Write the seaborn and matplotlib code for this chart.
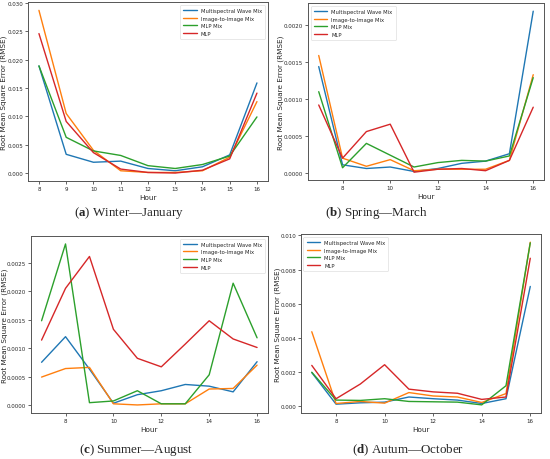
import matplotlib
matplotlib.use("Agg")
import matplotlib.pyplot as plt
import pandas as pd
import seaborn as sns

# model names, in legend order
models = ["Multispectral Wave Mix", "Image-to-Image Mix", "MLP Mix", "MLP"]

# (a) Winter - January
hours_jan = [8, 9, 10, 11, 12, 13, 14, 15, 16]
jan_wave = [0.0189, 0.0033, 0.0019, 0.0021, 0.0008, 0.0004, 0.0011, 0.0032, 0.0159]
jan_i2i = [0.0287, 0.0105, 0.0040, 0.0004, 0.0001, 0.0001, 0.0004, 0.0028, 0.0126]
jan_mlpmix = [0.0189, 0.0063, 0.0039, 0.0031, 0.0013, 0.0008, 0.0015, 0.0030, 0.0099]
jan_mlp = [0.0246, 0.0091, 0.0036, 0.0007, 0.0001, 0.0000, 0.0005, 0.0025, 0.0141]

# (b) Spring - March
hours_mar = [7, 8, 9, 10, 11, 12, 13, 14, 15, 16]
mar_wave = [0.00144, 0.00011, 0.00006, 0.00008, 0.00002, 0.00006, 0.00013, 0.00016, 0.00026, 0.00219]
mar_i2i = [0.00159, 0.00020, 0.00009, 0.00018, 0.00003, 0.00005, 0.00005, 0.00005, 0.00017, 0.00133]
mar_mlpmix = [0.00110, 0.00007, 0.00040, 0.00024, 0.00008, 0.00014, 0.00017, 0.00016, 0.00023, 0.00129]
mar_mlp = [0.00092, 0.00020, 0.00056, 0.00066, 0.00001, 0.00005, 0.00006, 0.00003, 0.00017, 0.00089]

# (c) Summer - August
hours_aug = [7, 8, 9, 10, 11, 12, 13, 14, 15, 16]
aug_wave = [0.00075, 0.00120, 0.00063, 0.00003, 0.00018, 0.00025, 0.00036, 0.00033, 0.00023, 0.00076]
aug_i2i = [0.00049, 0.00064, 0.00066, 0.00002, 0.00000, 0.00002, 0.00002, 0.00028, 0.00029, 0.00070]
aug_mlpmix = [0.00148, 0.00283, 0.00004, 0.00007, 0.00025, 0.00002, 0.00002, 0.00053, 0.00214, 0.00118]
aug_mlp = [0.00114, 0.00205, 0.00261, 0.00133, 0.00082, 0.00067, 0.00107, 0.00148, 0.00116, 0.00101]

# (d) Autumn - October
hours_oct = [7, 8, 9, 10, 11, 12, 13, 14, 15, 16]
oct_wave = [0.00197, 0.00012, 0.00020, 0.00024, 0.00054, 0.00044, 0.00036, 0.00016, 0.00044, 0.00701]
oct_i2i = [0.00436, 0.00016, 0.00028, 0.00018, 0.00080, 0.00060, 0.00054, 0.00022, 0.00074, 0.00960]
oct_mlpmix = [0.00199, 0.00036, 0.00034, 0.00044, 0.00028, 0.00026, 0.00024, 0.00008, 0.00120, 0.00956]
oct_mlp = [0.00239, 0.00044, 0.00130, 0.00243, 0.00100, 0.00084, 0.00076, 0.00040, 0.00054, 0.00866]

captions = ["a", "b", "c", "d"]
caption_texts = ["Winter\u2014January", "Spring\u2014March", "Summer\u2014August", "Autum\u2014October"]

sns.set_style("ticks")
plt.rcParams["font.family"] = ["DejaVu Sans"]
plt.rcParams["mathtext.fontset"] = "custom"
plt.rcParams["mathtext.bf"] = "Liberation Serif:bold"
plt.rcParams["mathtext.rm"] = "Liberation Serif"
plt.rcParams["axes.edgecolor"] = "#555555"
plt.rcParams["axes.linewidth"] = 0.7

palette = sns.color_palette("tab10", 4)

panels = [
    (hours_jan, [jan_wave, jan_i2i, jan_mlpmix, jan_mlp], "upper right"),
    (hours_mar, [mar_wave, mar_i2i, mar_mlpmix, mar_mlp], "upper left"),
    (hours_aug, [aug_wave, aug_i2i, aug_mlpmix, aug_mlp], "upper right"),
    (hours_oct, [oct_wave, oct_i2i, oct_mlpmix, oct_mlp], "upper left"),
]

axes_rects = [
    [0.051, 0.604, 0.436, 0.389],
    [0.560, 0.606, 0.429, 0.385],
    [0.056, 0.100, 0.431, 0.385],
    [0.547, 0.100, 0.437, 0.389],
]
ylabel_x = [-0.088, -0.100, -0.095, -0.083]
caption_pos = [(0.235, 0.537), (0.684, 0.537), (0.247, 0.022), (0.742, 0.022)]

fig = plt.figure(figsize=(5.5, 4.6), dpi=100)

for i, (hours, series, loc) in enumerate(panels):
    ax = fig.add_axes(axes_rects[i])
    for name, vals, col in zip(models, series, palette):
        df = pd.DataFrame({"Hour": hours, "RMSE": vals})
        sns.lineplot(data=df, x="Hour", y="RMSE", ax=ax, color=col, label=name, linewidth=1.0)
    ax.set_xlabel("Hour", fontsize=5.2, labelpad=2)
    ax.set_ylabel("Root Mean Square Error (RMSE)", fontsize=5.2)
    ax.yaxis.set_label_coords(ylabel_x[i], 0.5)
    ax.tick_params(labelsize=4.0, length=2, width=0.5, pad=1.5)
    ax.margins(x=0.05, y=0.05)
    leg = ax.legend(loc=loc, fontsize=3.8, frameon=True, handlelength=2.5,
                    borderpad=0.6, labelspacing=0.5)
    leg.get_frame().set_linewidth(0.4)
    fig.text(caption_pos[i][0], caption_pos[i][1],
             r"($\mathbf{" + captions[i] + r"}$) " + caption_texts[i],
             ha="center", va="center", fontsize=9.4, family="Liberation Serif")

fig.savefig("out.png", dpi=100)
